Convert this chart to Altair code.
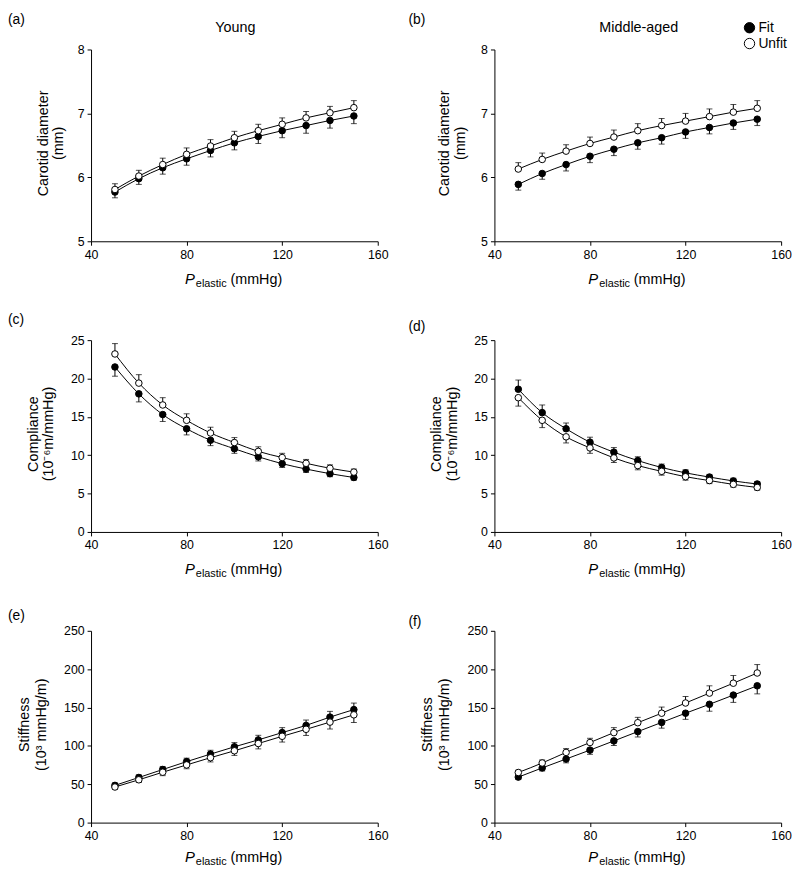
import altair as alt
import pandas as pd

FONT = "Liberation Sans"

pressure = [50, 60, 70, 80, 90, 100, 110, 120, 130, 140, 150]

# (a) Young, carotid diameter (mm)
a_fit = [5.77, 5.98, 6.15, 6.29, 6.42, 6.54, 6.64, 6.73, 6.81, 6.89, 6.96]
a_fit_err = [0.09, 0.09, 0.10, 0.10, 0.10, 0.11, 0.11, 0.11, 0.12, 0.12, 0.12]
a_unfit = [5.81, 6.02, 6.20, 6.36, 6.49, 6.62, 6.73, 6.83, 6.93, 7.01, 7.09]
a_unfit_err = [0.09, 0.09, 0.10, 0.10, 0.10, 0.10, 0.10, 0.10, 0.10, 0.10, 0.11]

# (b) Middle-aged, carotid diameter (mm)
b_fit = [5.89, 6.06, 6.20, 6.33, 6.44, 6.54, 6.62, 6.71, 6.78, 6.85, 6.91]
b_fit_err = [0.09, 0.09, 0.10, 0.10, 0.10, 0.10, 0.10, 0.10, 0.10, 0.10, 0.10]
b_unfit = [6.13, 6.28, 6.41, 6.53, 6.63, 6.73, 6.81, 6.88, 6.95, 7.02, 7.08]
b_unfit_err = [0.10, 0.10, 0.10, 0.10, 0.11, 0.11, 0.11, 0.12, 0.12, 0.12, 0.12]

# (c) Young, compliance
c_fit = [21.5, 18.0, 15.3, 13.45, 11.95, 10.85, 9.8, 8.9, 8.2, 7.6, 7.1]
c_fit_err = [1.2, 1.05, 0.9, 0.8, 0.7, 0.6, 0.55, 0.5, 0.45, 0.4, 0.35]
c_unfit = [23.2, 19.4, 16.55, 14.55, 12.9, 11.65, 10.5, 9.7, 8.95, 8.3, 7.8]
c_unfit_err = [1.35, 1.1, 0.95, 0.85, 0.75, 0.65, 0.6, 0.55, 0.5, 0.45, 0.4]

# (d) Middle-aged, compliance
d_fit = [18.6, 15.55, 13.45, 11.7, 10.4, 9.3, 8.4, 7.7, 7.15, 6.65, 6.25]
d_fit_err = [1.2, 1.0, 0.75, 0.65, 0.6, 0.5, 0.45, 0.4, 0.35, 0.35, 0.3]
d_unfit = [17.5, 14.55, 12.4, 10.95, 9.65, 8.65, 7.9, 7.2, 6.7, 6.2, 5.8]
d_unfit_err = [1.1, 0.95, 0.8, 0.7, 0.6, 0.55, 0.5, 0.45, 0.4, 0.35, 0.35]

# (e) Young, stiffness
e_fit = [48.5, 58.8, 69.2, 79.5, 89.3, 98.8, 107.8, 117.3, 126.7, 137.5, 147.3]
e_fit_err = [3, 3.5, 4, 4.5, 5, 5.5, 6, 6.5, 7, 7.5, 8.5]
e_unfit = [46.4, 55.8, 65.7, 75.2, 84.6, 93.6, 103.1, 112.5, 121.6, 131.0, 140.5]
e_unfit_err = [3, 3.5, 4.5, 5, 5.5, 6, 7, 7.5, 8, 9, 10]

# (f) Middle-aged, stiffness
f_fit = [59.3, 71.3, 82.9, 94.5, 106.5, 118.6, 130.6, 142.6, 154.2, 166.2, 178.3]
f_fit_err = [3, 4, 5, 5.5, 6, 7, 7.5, 8, 9, 9.5, 10.5]
f_unfit = [65.3, 77.7, 91.5, 104.4, 117.3, 130.2, 142.6, 155.9, 168.8, 181.7, 195.0]
f_unfit_err = [3, 4, 5, 5.5, 6.5, 7, 8, 8.5, 9.5, 10, 11]

series_names = ["Fit", "Unfit"]
x_ticks = [40, 80, 120, 160]

W = 290
H = 194


def txt(s, x, y, size, align="left", baseline="middle", angle=0, italic=False):
    kw = dict(fontSize=size, font=FONT, color="black", align=align, baseline=baseline)
    if angle:
        kw["angle"] = angle
    if italic:
        kw["fontStyle"] = "italic"
    return alt.Chart(pd.DataFrame({"t": [s]})).mark_text(**kw).encode(
        text="t:N", x=alt.value(x), y=alt.value(y)
    )


def panel(label, fit, fit_err, fit_dir, unfit, unfit_err, unfit_dir,
          ydom, yticks, ytitle, ytx, col_title=None, legend=False,
          label_pos=(-84, -37), title_dy=43):
    rows = []
    for name, vals, errs, d in [("Fit", fit, fit_err, fit_dir), ("Unfit", unfit, unfit_err, unfit_dir)]:
        for p, v, e in zip(pressure, vals, errs):
            rows.append({"P": p, "value": v, "end": v + d * e, "series": name})
    df = pd.DataFrame(rows)
    base = alt.Chart(df)
    xscale = alt.Scale(domain=[40, 160], nice=False, zero=False)
    xaxis = alt.Axis(values=x_ticks, title=None, grid=False, format="d",
                     labelOverlap=False, labelFlush=False)
    yscale = alt.Scale(domain=ydom, nice=False, zero=False)
    yaxis = alt.Axis(values=yticks, title=None, grid=False, format="d",
                     labelOverlap=False, labelFlush=False, tickCount=len(yticks))
    xenc = alt.X("P:Q", scale=xscale, axis=xaxis)
    yenc = alt.Y("value:Q", scale=yscale, axis=yaxis)
    yend = alt.Y("end:Q", scale=yscale, axis=yaxis)
    line = base.mark_line(interpolate="monotone", color="black", strokeWidth=1).encode(
        x=xenc, y=yenc, detail="series:N")
    rule = base.mark_rule(color="black", strokeWidth=1).encode(
        x=xenc, y=yenc, y2="end:Q")
    cap = base.mark_tick(orient="horizontal", color="black", size=6, thickness=1).encode(
        x=xenc, y=yend)
    pts = base.mark_point(shape="circle", filled=True, size=44, stroke="black",
                          strokeWidth=1, opacity=1).encode(
        x=xenc, y=yenc,
        fill=alt.Fill("series:N", scale=alt.Scale(domain=series_names, range=["black", "white"]),
                      legend=None))
    layers = [line, rule, cap, pts]
    # x-axis title: P (italic) with subscript "elastic" then (mmHg)
    ty = H + title_dy
    layers += [
        txt("P", 95, ty, 15, baseline="alphabetic", italic=True),
        txt("elastic", 106, ty + 3, 11, baseline="alphabetic"),
        txt("(mmHg)", 141, ty, 14.5, baseline="alphabetic"),
    ]
    # y-axis title (two lines)
    layers += [
        txt(ytitle[0], ytx[0], H / 2 - 2, 14.5, align="center", angle=270),
        txt(ytitle[1], ytx[1], H / 2 - 2, 14.5, align="center", angle=270),
    ]
    layers.append(txt(label, label_pos[0], label_pos[1], 14, baseline="top"))
    if col_title:
        layers.append(txt(col_title, W / 2 + 1, -22, 14.5, align="center"))
    if legend:
        leg = pd.DataFrame({"s": series_names})
        layers.append(
            alt.Chart(leg).mark_point(shape="circle", filled=True, size=110, stroke="black",
                                      strokeWidth=1, opacity=1, fill="black").encode(
                x=alt.value(258), y=alt.value(-22)
            ).transform_filter(alt.datum.s == "Fit")
        )
        layers.append(
            alt.Chart(leg).mark_point(shape="circle", filled=True, size=110, stroke="black",
                                      strokeWidth=1, opacity=1, fill="white").encode(
                x=alt.value(258), y=alt.value(-6)
            ).transform_filter(alt.datum.s == "Unfit")
        )
        layers.append(txt("Fit", 267, -22, 14))
        layers.append(txt("Unfit", 267, -6, 14))
    return alt.layer(*layers).properties(width=W, height=H)


pa = panel("(a)", a_fit, a_fit_err, -1, a_unfit, a_unfit_err, 1, [5, 8], [5, 6, 7, 8],
           ["Carotid diameter", "(mm)"], (-48, -32), col_title="Young")
pb = panel("(b)", b_fit, b_fit_err, -1, b_unfit, b_unfit_err, 1, [5, 8], [5, 6, 7, 8],
           ["Carotid diameter", "(mm)"], (-50, -34), col_title="Middle-aged", legend=True,
           label_pos=(-87, -37))
pc = panel("(c)", c_fit, c_fit_err, -1, c_unfit, c_unfit_err, 1, [0, 25], [0, 5, 10, 15, 20, 25],
           ["Compliance", "(10\u207b\u2076m/mmHg)"], (-58, -42), label_pos=(-84, -27))
pd_ = panel("(d)", d_fit, d_fit_err, 1, d_unfit, d_unfit_err, -1, [0, 25], [0, 5, 10, 15, 20, 25],
            ["Compliance", "(10\u207b\u2076m/mmHg)"], (-58, -42), label_pos=(-87, -20))
pe = panel("(e)", e_fit, e_fit_err, 1, e_unfit, e_unfit_err, -1, [0, 250], [0, 50, 100, 150, 200, 250],
           ["Stiffness", "(10\u00b3 mmHg/m)"], (-67, -50), label_pos=(-84, -22), title_dy=40)
pf = panel("(f)", f_fit, f_fit_err, -1, f_unfit, f_unfit_err, 1, [0, 250], [0, 50, 100, 150, 200, 250],
           ["Stiffness", "(10\u00b3 mmHg/m)"], (-67, -50), label_pos=(-87, -16), title_dy=40)

chart = alt.concat(pa, pb, pc, pd_, pe, pf, columns=2,
                   spacing={"row": 100, "column": 118}, bounds="flush").properties(
    padding=0
).configure_view(stroke=None).configure_axis(
    domainColor="black", tickColor="black", labelColor="black", labelFont=FONT,
    labelFontSize=12.5, tickSize=4, domainWidth=1, tickWidth=1, labelPadding=3,
    labelFlush=False, labelOverlap=False
)

chart.save("out.html", embed_options={"renderer": "svg", "actions": False})
